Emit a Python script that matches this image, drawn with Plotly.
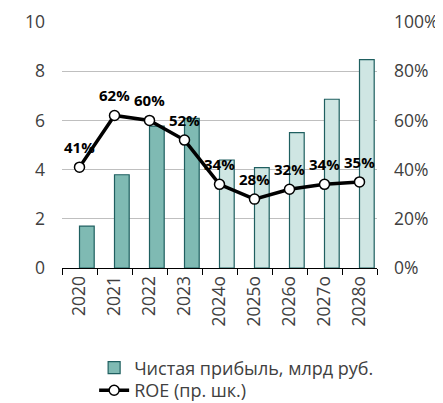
import plotly.graph_objects as go

years = ["2020", "2021", "2022", "2023", "2024о", "2025о", "2026о", "2027о", "2028о"]
profit = [1.70, 3.79, 5.77, 6.08, 4.39, 4.08, 5.50, 6.86, 8.47]
roe = [41, 62, 60, 52, 34, 28, 32, 34, 35]
roe_labels = [f"{v}%" for v in roe]
n_actual = 4

dark_fill = "#7fbab3"
light_fill = "#cfe6e3"
edge = "#1f5f60"
bar_colors = [dark_fill if i < n_actual else light_fill for i in range(len(years))]

FONT = "Open Sans"
TXT = "#404040"
TICKFONT = dict(family=FONT, size=17.5, color=TXT)

fig = go.Figure()
fig.add_trace(go.Bar(
    x=years, y=profit, name="Чистая прибыль, млрд руб.",
    marker=dict(color=bar_colors, line=dict(color=edge, width=1.2)),
    width=0.42, offset=0, yaxis="y", legend="legend",
))
fig.add_trace(go.Scatter(
    x=years, y=roe, name="ROE (пр. шк.)", yaxis="y2", legend="legend2",
    mode="lines+markers",
    line=dict(color="black", width=3.5),
    marker=dict(size=10, color="white", line=dict(color="black", width=1.5)),
))

for i, (v, t) in enumerate(zip(roe, roe_labels)):
    fig.add_annotation(x=i, y=v, xref="x", yref="y2", text=t, showarrow=False,
                       yshift=20, font=dict(family=FONT, size=15, color="black", weight="bold"))

leg_common = dict(orientation="v", xanchor="left", yanchor="middle",
                  font=dict(family=FONT, size=18, color=TXT),
                  bgcolor="rgba(0,0,0,0)")

# page body has an 8px margin, so the figure is sized to fit the 443x403 window
fig.update_layout(
    width=435, height=395,
    margin=dict(l=54, r=66, t=14, b=135, autoexpand=False),
    paper_bgcolor="white", plot_bgcolor="white",
    font=dict(family=FONT, size=17, color=TXT),
    showlegend=True,
    legend=dict(x=0.102, y=-0.4065, **leg_common),
    legend2=dict(x=0.102, y=-0.498, **leg_common),
    xaxis=dict(type="category", range=[-0.5, len(years) - 0.5],
               showline=True, linecolor="black", linewidth=1,
               ticks="outside", ticklen=6, tickcolor="black", tickson="boundaries",
               tickangle=-90, showgrid=False, tickfont=TICKFONT,
               automargin=False),
    yaxis=dict(range=[0, 10], dtick=2, showgrid=True, gridcolor="#bfbfbf", gridwidth=1,
               zeroline=False, showline=False, ticks="", tickfont=TICKFONT,
               ticklabelstandoff=16, automargin=False),
    yaxis2=dict(range=[0, 100], dtick=20, overlaying="y", side="right", showgrid=False,
                zeroline=False, showline=False, ticksuffix="%", tickfont=TICKFONT,
                ticklabelstandoff=16, automargin=False),
)

fig.write_html("out.html")
